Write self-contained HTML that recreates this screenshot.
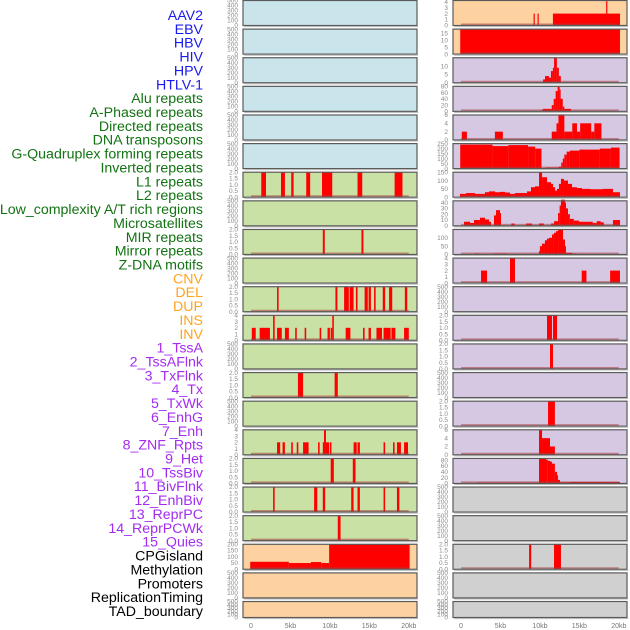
<!DOCTYPE html>
<html><head><meta charset="utf-8">
<style>
html,body{margin:0;padding:0;background:#fff;}
svg{display:block;font-family:"Liberation Sans",sans-serif;}
</style></head>
<body>
<svg id="chart" width="630" height="630" viewBox="0 0 630 630"></svg>
<script>
// ---- data ----
const trackLabels = ["AAV2","EBV","HBV","HIV","HPV","HTLV-1","Alu repeats","A-Phased repeats","Directed repeats","DNA transposons","G-Quadruplex forming repeats","Inverted repeats","L1 repeats","L2 repeats","Low_complexity A/T rich regions","Microsatellites","MIR repeats","Mirror repeats","Z-DNA motifs","CNV","DEL","DUP","INS","INV","1_TssA","2_TssAFlnk","3_TxFlnk","4_Tx","5_TxWk","6_EnhG","7_Enh","8_ZNF_Rpts","9_Het","10_TssBiv","11_BivFlnk","12_EnhBiv","13_ReprPC","14_ReprPCWk","15_Quies","CPGisland","Methylation","Promoters","ReplicationTiming","TAD_boundary"];
const labelGroups = ["virus","virus","virus","virus","virus","virus","repeat","repeat","repeat","repeat","repeat","repeat","repeat","repeat","repeat","repeat","repeat","repeat","repeat","sv","sv","sv","sv","sv","chrom","chrom","chrom","chrom","chrom","chrom","chrom","chrom","chrom","chrom","chrom","chrom","chrom","chrom","chrom","other","other","other","other","other"];
const xTicks = [0,5,10,15,20];
const xTickLabels = ["0","5kb","10kb","15kb","20kb"];
// left column panels: max, tick values, segments [startKb,endKb,value]
const leftMax = [500,500,500,500,500,500,2,500,2,500,2,4,500,2,500,4,2,2,2,200,500,500];
const leftTicks = [
 [0,100,200,300,400,500],[0,100,200,300,400,500],[0,100,200,300,400,500],[0,100,200,300,400,500],[0,100,200,300,400,500],[0,100,200,300,400,500],
 [0,0.5,1,1.5,2],[0,100,200,300,400,500],[0,0.5,1,1.5,2],[0,100,200,300,400,500],[0,0.5,1,1.5,2],[0,1,2,3,4],[0,100,200,300,400,500],[0,0.5,1,1.5,2],[0,100,200,300,400,500],[0,1,2,3,4],[0,0.5,1,1.5,2],[0,0.5,1,1.5,2],[0,0.5,1,1.5,2],[0,50,100,150,200],[0,100,200,300,400,500],[0,100,200,300,400,500]];
const leftSegs = [
 [],[],[],[],[],[],
 [[1.3,1.9,2],[3.8,4.3,2],[5.1,5.4,2],[7.0,7.5,2],[9.0,10.3,2],[13.5,14.1,2],[18.2,19.2,2]],
 [],
 [[9.1,9.35,2],[14.0,14.25,2]],
 [],
 [[3.3,3.5,2],[10.7,10.95,2],[11.8,12.4,2],[12.5,13.0,2],[13.3,13.5,2],[14.4,14.8,2],[14.9,15.2,2],[15.6,15.8,2],[16.7,17.0,2],[17.5,17.9,2],[19.5,19.8,2]],
 [[0.1,0.6,2],[1.1,2.4,2],[2.8,3.0,4],[3.3,3.9,2],[4.3,4.8,2],[5.6,5.8,2],[6.8,7.0,2],[8.7,8.9,2],[9.7,10.0,2],[10.1,10.3,2],[10.3,10.5,4],[12.0,12.6,2],[14.2,14.4,2],[14.9,15.2,2],[15.9,16.6,2],[16.8,17.7,2],[17.8,18.3,2],[19.4,20.0,2]],
 [],
 [[5.95,6.6,2],[10.6,11.0,2]],
 [],
 [[3.3,3.7,2],[4.0,4.3,2],[5.1,5.3,2],[5.8,6.0,2],[6.6,7.3,2],[8.5,8.7,2],[9.1,9.25,2],[9.25,9.5,4],[9.5,9.9,2],[10.0,10.2,2],[13.0,13.4,2],[13.5,13.8,2],[16.8,17.0,2],[18.0,18.2,2],[18.5,19.0,2],[19.4,19.9,2]],
 [[10.1,10.5,2],[12.9,13.25,2]],
 [[2.8,3.0,2],[8.0,8.4,2],[9.1,9.4,2],[12.7,13.0,2],[13.5,13.8,2],[16.8,17.0,2],[18.5,18.8,2]],
 [[11.0,11.35,2]],
 [[-0.1,4.8,60],[4.8,7.6,50],[7.6,8.9,58],[8.9,9.9,50],[9.9,20.1,200]],
 [],[]
];
const rightMax = [4.2,18,15,80,6,250,150,43,150,4,500,2,2,500,2,6,86,500,500,2,500,500];
const rightTicks = [
 [0,1,2,3,4],[0,5,10,15],[0,5,10],[0,20,40,60,80],[0,2,4,6],[0,50,100,150,200,250],[0,50,100,150],[0,10,20,30,40],[0,50,100],[0,1,2,3,4],[0,100,200,300,400,500],[0,0.5,1,1.5,2],[0,0.5,1,1.5,2],[0,100,200,300,400,500],[0,0.5,1,1.5,2],[0,2,4,6],[0,20,40,60,80],[0,100,200,300,400,500],[0,100,200,300,400,500],[0,0.5,1,1.5,2],[0,100,200,300,400,500],[0,100,200,300,400,500]];
const rightSegs = [
 [[9.2,9.35,2],[9.7,9.85,2],[11.65,20.15,2],[18.4,18.55,4.2]],
 [[-0.1,20.15,18]],
 [[10.4,10.65,2],[10.65,11.15,4],[11.15,11.4,3],[11.4,11.65,7],[11.65,11.8,9],[11.8,12.15,15],[12.15,12.4,9],[12.4,12.65,4]],
 [[10.1,10.35,3],[10.35,11.5,8],[11.5,11.75,20],[11.75,12.0,40],[12.0,12.25,65],[12.25,12.5,80],[12.5,12.6,70],[12.6,12.9,40],[12.9,13.1,15],[13.1,13.95,8]],
 [[0.1,0.75,2],[4.3,5.3,2],[11.5,12.1,2],[12.1,12.35,4],[12.35,13.1,6],[13.1,14.1,2],[14.1,14.7,4],[14.7,15.1,2],[15.1,16.5,4],[16.5,16.9,2],[16.9,17.8,4]],
 [[-0.1,4,240],[4,6,225],[6,8.5,235],[8.5,9.4,220],[9.4,10.2,200],[10.7,12.4,10],[12.4,12.7,20],[12.7,12.9,60],[12.9,13.1,100],[13.1,13.4,140],[13.4,13.8,170],[13.8,15,180],[15,17.6,190],[17.6,19,200],[19,20.1,210]],
 [[-0.13,0.63,20],[0.63,1.77,25],[1.77,3.04,20],[3.04,3.55,30],[3.55,4.31,35],[4.31,4.94,30],[4.94,5.58,32],[5.58,6.21,28],[6.21,6.84,20],[6.84,8.37,25],[8.37,8.87,35],[8.87,9.38,60],[9.38,9.89,65],[9.89,10.27,150],[10.27,10.9,120],[10.9,11.41,90],[11.41,11.66,80],[11.66,11.91,60],[11.91,12.17,40],[12.17,12.42,50],[12.42,12.67,80],[12.67,13.05,110],[13.05,13.56,100],[13.56,14.07,80],[14.07,14.7,60],[14.7,15.34,55],[15.34,16.35,50],[16.35,18.0,48],[18.0,19.26,50],[19.26,20.15,30]],
 [[0.38,1.14,7],[1.14,1.65,5],[1.65,2.4,10],[2.4,3.04,14],[3.04,3.55,11],[3.55,3.8,7],[4.18,4.44,18],[4.44,4.94,27],[4.94,5.07,22],[6.38,6.8,4],[8.24,9.0,4],[9.88,10.5,4],[11.4,11.8,4],[11.8,12.3,8],[12.3,12.5,22],[12.5,12.67,35],[12.67,13.18,45],[13.18,13.3,40],[13.3,13.56,30],[13.56,13.8,20],[13.8,14.3,12],[14.3,14.95,9],[14.95,16.7,7],[16.7,17.2,5],[17.2,17.7,8],[17.7,18.1,6],[19.26,20.15,10]],
 [[1.78,2.28,5],[4.18,5.07,5],[5.2,5.83,5],[9.88,10.0,20],[10.0,10.26,50],[10.26,10.64,65],[10.64,10.9,85],[10.9,11.15,95],[11.15,11.53,100],[11.53,11.78,120],[11.78,12.04,130],[12.04,12.3,140],[12.3,12.93,150],[12.93,13.18,90],[13.18,13.3,50],[13.3,14.07,10],[14.07,14.7,5]],
 [[2.54,3.3,2],[6.21,6.84,4],[15.3,15.9,2],[18.9,20.15,2]],
 [],
 [[10.9,11.53,2],[11.66,12.17,2]],
 [[11.28,11.66,2]],
 [],
 [[11.03,11.9,2]],
 [[9.89,10.27,6],[10.27,11.28,4],[11.28,11.9,2]],
 [[2.02,9.89,3],[9.89,10.77,86],[10.77,11.0,82],[11.0,11.28,78],[11.28,11.53,75],[11.53,11.9,68],[11.9,12.17,40],[12.17,12.3,28],[12.3,12.55,12],[12.55,13.8,4],[13.8,20.15,5]],
 [],[],
 [[8.63,8.9,2],[11.79,12.67,2]],
 [],[]
];
const leftFill = ["#c9e4eb","#c9e4eb","#c9e4eb","#c9e4eb","#c9e4eb","#c9e4eb","#c9e1a5","#c9e1a5","#c9e1a5","#c9e1a5","#c9e1a5","#c9e1a5","#c9e1a5","#c9e1a5","#c9e1a5","#c9e1a5","#c9e1a5","#c9e1a5","#c9e1a5","#fdd1a0","#fdd1a0","#fdd1a0"];
const rightFill = ["#fdd1a0","#fdd1a0","#d6c7e3","#d6c7e3","#d6c7e3","#d6c7e3","#d6c7e3","#d6c7e3","#d6c7e3","#d6c7e3","#d6c7e3","#d6c7e3","#d6c7e3","#d6c7e3","#d6c7e3","#d6c7e3","#d6c7e3","#d0d0d0","#d0d0d0","#d0d0d0","#d0d0d0","#d0d0d0"];

// ---- drawing ----
const NS = "http://www.w3.org/2000/svg";
const svg = document.getElementById("chart");
const groupColor = {virus:"#1a1aee", repeat:"#127312", sv:"#ffa320", chrom:"#a32cf0", other:"#000"};
function mk(tag, attrs, parent){const e=document.createElementNS(NS,tag);for(const k in attrs)e.setAttribute(k,attrs[k]);(parent||svg).appendChild(e);return e;}

trackLabels.forEach((t,i)=>{
  const e = mk("text",{x:203,y:20+i*13.86,"text-anchor":"end","font-size":"14.2",fill:groupColor[labelGroups[i]]});
  
  
  e.textContent = t;
});

function rowTop(i){return 0.5 + i*28.62;}
function rowH(i){return i===21 ? 16 : 25;}
function fmt(v,ticks){const dec = ticks.some(t=>t%1!==0); return dec ? v.toFixed(1) : String(v);}

function drawCol(colIdx, maxes, ticks, segs, fills){
  const x0 = colIdx===0 ? 243 : 453;
  const w = 174;
  const zeroX = colIdx===0 ? 251 : 461;
  const kbPx = 7.89;
  const xs = kb => zeroX + kb*kbPx;
  for(let i=0;i<22;i++){
    const top=rowTop(i), h=rowH(i);
    const g = mk("g",{});
    
    
    const bg = mk("rect",{x:x0,y:top,width:w,height:h,fill:fills[i],stroke:"none"},g);
    const ys = v => top+h - (v/maxes[i])*h;
    segs[i].forEach(s=>{
      const b = mk("rect",{x:xs(s[0]),y:ys(s[2]),width:Math.max(xs(s[1])-xs(s[0]),1),height:top+h-ys(s[2]),fill:"#ff0000"},g);
      
      
    });
    if(segs[i].length){
      mk("line",{x1:xs(0),x2:xs(20),y1:top+h-1,y2:top+h-1,stroke:"rgba(170,60,60,0.55)","stroke-width":2},g);
    }
    mk("rect",{x:x0,y:top,width:w,height:h,fill:"none",stroke:"#5a5a5a","stroke-width":1.2},g);
    mk("rect",{x:x0+1.2,y:top+h+0.6,width:w,height:1,fill:"#b8b8b8"},g);
    ticks[i].forEach(v=>{
      const t = mk("text",{x:x0-5,y:ys(v)+2.2,"text-anchor":"end","font-size":"6.5",fill:"#8a8a8a"},g);
      
      
      t.textContent = fmt(v,ticks[i]);
    });
  }
  xTicks.forEach((k,j)=>{
    const t = mk("text",{x:xs(k),y:628,"text-anchor":"middle","font-size":"7",fill:"#777"});
    
    
    t.textContent = xTickLabels[j];
  });
}
drawCol(0,leftMax,leftTicks,leftSegs,leftFill);
drawCol(1,rightMax,rightTicks,rightSegs,rightFill);
</script>
</body></html>
